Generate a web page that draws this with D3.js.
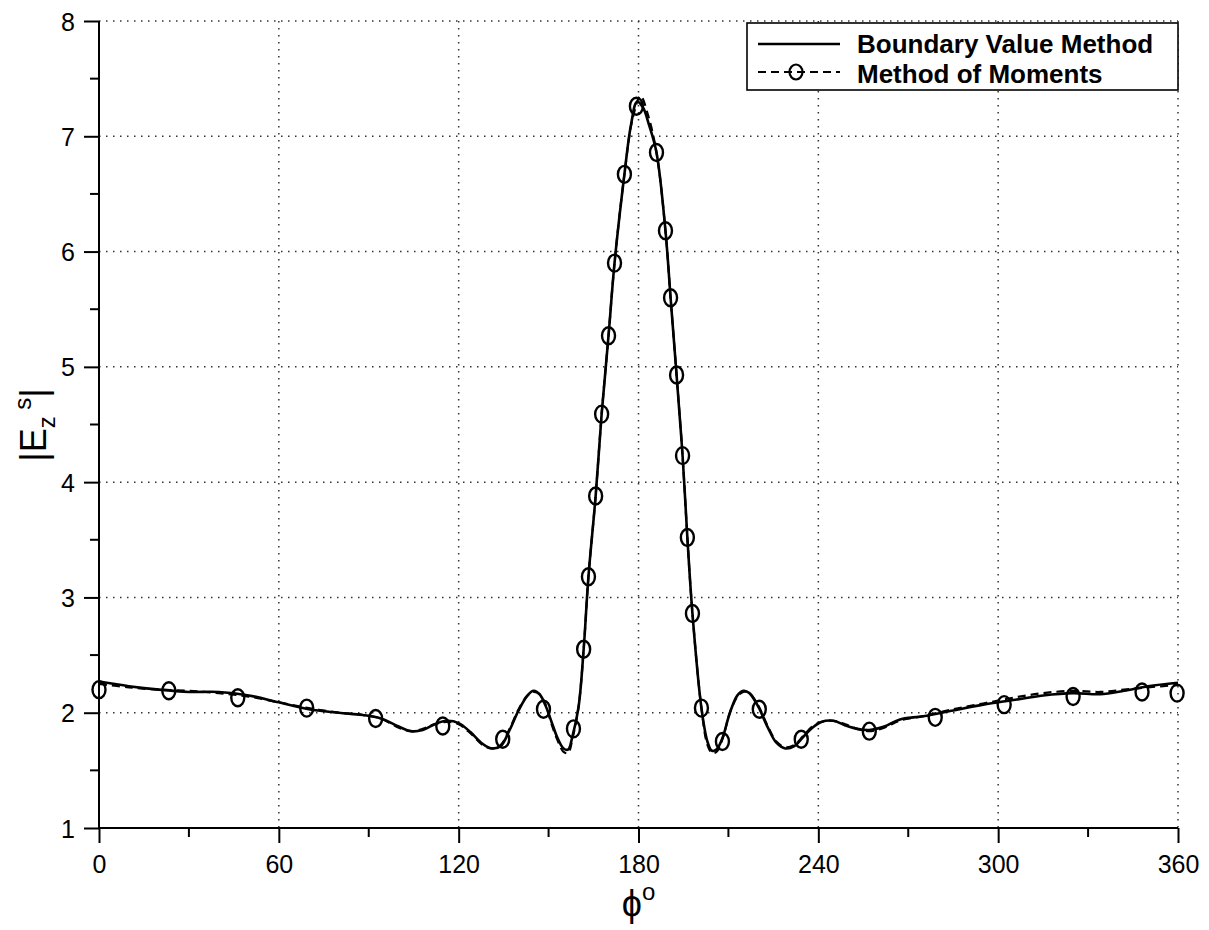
<!DOCTYPE html>
<html>
<head>
<meta charset="utf-8">
<script src="https://cdn.jsdelivr.net/npm/d3@7"></script>
<style>
  body { margin: 0; background: #fff; }
  svg { font-family: "Liberation Sans", Arial, sans-serif; }
</style>
</head>
<body>
<div id="chart"></div>
<script>
// Boundary Value Method (solid), [phi deg, |Ez|]
var bvmPhi = [0,10,20,30,40,50,60,70,80,88,94,100,104,108,112,116,120,124,128,131,134,137,140,143,145,147,149,151,153,155,156.5,158,160,161.7,163.3,165.7,167.7,170,172,175.3,177.5,179.5,181.5,183.5,186,189,190.7,192.7,194.7,196.3,198,201,203,204.5,206,208,210.5,213,215,217,220,223,226,229,232,235,238,241,245,249,253,257,262,267,275,285,295,305,315,325,334,342,350,360];
var bvmVal = [2.27,2.23,2.2,2.18,2.18,2.15,2.09,2.03,2.0,1.98,1.95,1.88,1.84,1.85,1.9,1.93,1.91,1.83,1.73,1.69,1.71,1.85,2.02,2.15,2.19,2.16,2.06,1.92,1.78,1.69,1.68,1.8,2.05,2.55,3.18,3.88,4.59,5.27,5.9,6.67,7.1,7.3,7.25,7.1,6.86,6.18,5.6,4.93,4.23,3.52,2.86,2.04,1.75,1.67,1.68,1.78,2.0,2.15,2.19,2.17,2.05,1.88,1.74,1.69,1.71,1.79,1.87,1.92,1.93,1.89,1.86,1.85,1.88,1.94,1.97,2.02,2.07,2.11,2.15,2.17,2.16,2.19,2.23,2.26];

// Method of Moments (dashed line)
var momPhi = [0,10,20,30,40,50,60,70,80,88,94,100,104,108,112,116,120,124,128,131,134,137,140,143,145,147,149,151,153,155,156.5,158,160,161.7,163.3,165.7,167.7,170,172,175.3,178,180.7,183,186,189,190.7,192.7,194.7,196.3,198,201,203,204.5,206,208,210.5,213,215,217,220,223,226,229,232,235,238,241,245,249,253,257,262,267,275,285,295,305,315,325,334,342,350,360];
var momVal = [2.25,2.22,2.2,2.19,2.17,2.14,2.09,2.04,2.0,1.98,1.95,1.87,1.84,1.86,1.9,1.92,1.9,1.82,1.72,1.69,1.72,1.86,2.03,2.15,2.18,2.16,2.07,1.9,1.76,1.66,1.65,1.78,2.05,2.55,3.18,3.88,4.59,5.27,5.9,6.67,7.15,7.35,7.2,6.86,6.18,5.6,4.93,4.23,3.52,2.86,2.04,1.72,1.65,1.66,1.77,2.0,2.14,2.18,2.17,2.06,1.89,1.75,1.7,1.72,1.8,1.88,1.92,1.93,1.9,1.86,1.84,1.87,1.93,1.97,2.03,2.08,2.13,2.17,2.19,2.18,2.2,2.22,2.24];

// MoM circle markers
var markPhi = [0,23.3,46.3,69.3,92.3,114.7,134.7,148.3,158.3,161.7,163.3,165.7,167.7,170,172,175.3,179.3,186,189,190.7,192.7,194.7,196.3,198,201,208,220.3,234.3,257,279,302,325,348,359.7];
var markVal = [2.2,2.19,2.13,2.04,1.95,1.885,1.77,2.03,1.86,2.55,3.18,3.88,4.59,5.27,5.9,6.67,7.26,6.86,6.18,5.6,4.93,4.23,3.52,2.86,2.04,1.75,2.03,1.77,1.84,1.96,2.07,2.14,2.18,2.17];

var xTicks = [0,60,120,180,240,300,360];
var xMinor = [30,90,150,210,270,330];
var yTicks = [1,2,3,4,5,6,7,8];
var yMinor = [1.5,2.5,3.5,4.5,5.5,6.5,7.5];

var legendNames = ["Boundary Value Method", "Method of Moments"];

var W = 1209, H = 930;
var x0 = 99, x1 = 1178, yTop = 21, yBot = 828;

var svg = d3.select("#chart").append("svg")
  .attr("width", W).attr("height", H);

var x = d3.scaleLinear().domain([0, 360]).range([x0, x1]);
var y = d3.scaleLinear().domain([1, 8]).range([yBot, yTop]);

// dotted grid
svg.append("g").selectAll("line.vg")
  .data(xTicks.filter(function(d){ return d > 0; }))
  .enter().append("line")
    .attr("x1", function(d){ return x(d); }).attr("x2", function(d){ return x(d); })
    .attr("y1", yTop).attr("y2", yBot)
    .attr("stroke", "#333").attr("stroke-width", 1.5)
    .attr("stroke-dasharray", "1.5,5.5");
svg.append("g").selectAll("line.hg")
  .data(yTicks.filter(function(d){ return d > 1; }))
  .enter().append("line")
    .attr("x1", x0).attr("x2", x1)
    .attr("y1", function(d){ return y(d); }).attr("y2", function(d){ return y(d); })
    .attr("stroke", "#333").attr("stroke-width", 1.5)
    .attr("stroke-dasharray", "1.5,5.5");

// axes
var xAxis = d3.axisBottom(x).tickValues(xTicks).tickSize(15).tickPadding(12).tickFormat(d3.format("d"));
var yAxis = d3.axisLeft(y).tickValues(yTicks).tickSize(15).tickPadding(9).tickFormat(d3.format("d"));

var gx = svg.append("g").attr("transform", "translate(0," + yBot + ")").call(xAxis);
var gy = svg.append("g").attr("transform", "translate(" + x0 + ",0)").call(yAxis);
[gx, gy].forEach(function(g){
  g.select(".domain").remove();
  g.selectAll(".tick line").attr("stroke", "#000").attr("stroke-width", 2);
  g.selectAll(".tick text").attr("fill", "#000")
    .style("font-size", "25px")
    .style("font-family", "'Liberation Sans', Arial, sans-serif");
});
gy.selectAll(".tick text").attr("dy", "0.36em");

svg.append("g").selectAll("line")
  .data(xMinor).enter().append("line")
    .attr("x1", function(d){ return x(d); }).attr("x2", function(d){ return x(d); })
    .attr("y1", yBot).attr("y2", yBot + 9)
    .attr("stroke", "#000").attr("stroke-width", 2);
svg.append("g").selectAll("line")
  .data(yMinor).enter().append("line")
    .attr("x1", x0 - 9).attr("x2", x0)
    .attr("y1", function(d){ return y(d); }).attr("y2", function(d){ return y(d); })
    .attr("stroke", "#000").attr("stroke-width", 2);

svg.append("line").attr("x1", x0).attr("x2", x1).attr("y1", yBot).attr("y2", yBot)
  .attr("stroke", "#000").attr("stroke-width", 2);
svg.append("line").attr("x1", x0).attr("x2", x0).attr("y1", yTop).attr("y2", yBot)
  .attr("stroke", "#000").attr("stroke-width", 2);

// curves
var line = d3.line()
  .x(function(d){ return x(d[0]); })
  .y(function(d){ return y(d[1]); })
  .curve(d3.curveCatmullRom.alpha(0.5));

var bvm = bvmPhi.map(function(p, i){ return [p, bvmVal[i]]; });
var mom = momPhi.map(function(p, i){ return [p, momVal[i]]; });
var marks = markPhi.map(function(p, i){ return [p, markVal[i]]; });

svg.append("path").datum(mom)
  .attr("d", line).attr("fill", "none")
  .attr("stroke", "#000").attr("stroke-width", 2.2)
  .attr("stroke-dasharray", "8,5");

svg.append("path").datum(bvm)
  .attr("d", line).attr("fill", "none")
  .attr("stroke", "#000").attr("stroke-width", 2.6);

svg.append("g").selectAll("ellipse")
  .data(marks).enter().append("ellipse")
    .attr("cx", function(d){ return x(d[0]); })
    .attr("cy", function(d){ return y(d[1]); })
    .attr("rx", 6.5).attr("ry", 8.5)
    .attr("fill", "none").attr("stroke", "#000").attr("stroke-width", 2.4);

// legend
var lg = svg.append("g");
lg.append("rect").attr("x", 747).attr("y", 23).attr("width", x1 - 747).attr("height", 67)
  .attr("fill", "#fff").attr("stroke", "#000").attr("stroke-width", 1.6);
lg.append("line").attr("x1", 758).attr("x2", 840).attr("y1", 44).attr("y2", 44)
  .attr("stroke", "#000").attr("stroke-width", 2.6);
lg.append("line").attr("x1", 758).attr("x2", 840).attr("y1", 72).attr("y2", 72)
  .attr("stroke", "#000").attr("stroke-width", 2.2).attr("stroke-dasharray", "8,5");
lg.append("ellipse").attr("cx", 796).attr("cy", 72).attr("rx", 6.5).attr("ry", 7.5)
  .attr("fill", "none").attr("stroke", "#000").attr("stroke-width", 2.2);
lg.selectAll("text").data(legendNames).enter().append("text")
  .attr("x", 857).attr("y", function(d, i){ return 53 + i * 30; })
  .style("font-size", "26px").style("font-weight", "bold")
  .text(function(d){ return d; });

// axis titles
var xl = svg.append("text").attr("x", x(180)).attr("y", 916)
  .attr("text-anchor", "middle").style("font-size", "36px");
xl.append("tspan").text("\u03D5");
xl.append("tspan").attr("dy", -16).style("font-size", "24px").text("o");

var yl = svg.append("text")
  .attr("transform", "translate(46," + 425 + ") rotate(-90)")
  .attr("text-anchor", "middle").style("font-size", "36px");
yl.append("tspan").text("|E");
yl.append("tspan").attr("dy", 9).style("font-size", "24px").text("z");
yl.append("tspan").attr("dy", -24).style("font-size", "24px").text(" s");
yl.append("tspan").attr("dy", 15).text("|");
</script>
</body>
</html>
